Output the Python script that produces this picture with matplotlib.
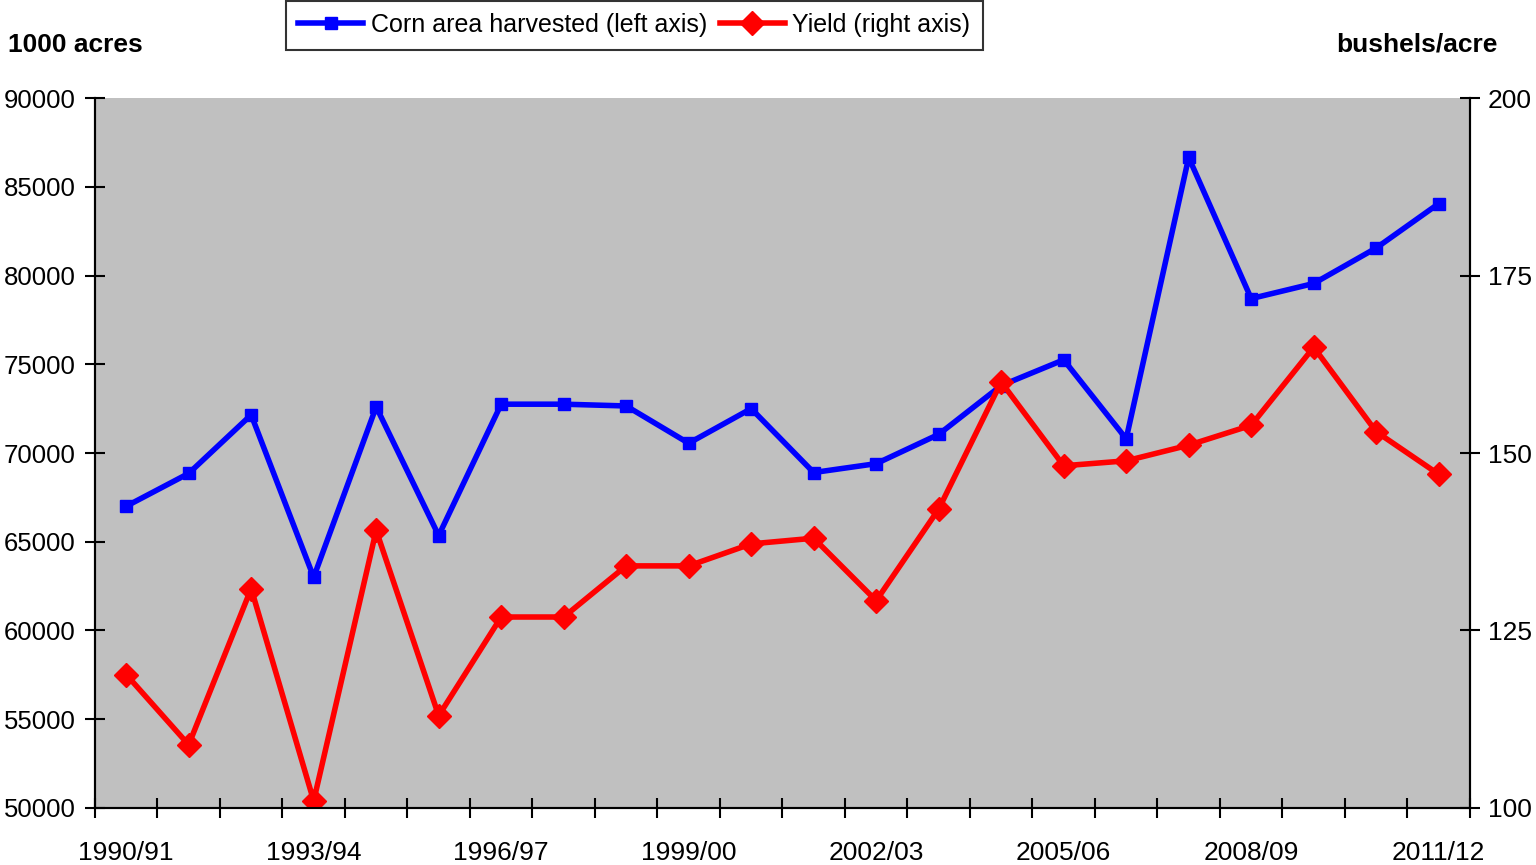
import matplotlib
matplotlib.use('Agg')
from matplotlib import pyplot as plt
import numpy as np

# marketing years
years = ['1990/91', '1991/92', '1992/93', '1993/94', '1994/95', '1995/96',
         '1996/97', '1997/98', '1998/99', '1999/00', '2000/01', '2001/02',
         '2002/03', '2003/04', '2004/05', '2005/06', '2006/07', '2007/08',
         '2008/09', '2009/10', '2010/11', '2011/12']

# 1000 acres
area = [67000, 68850, 72150, 63000, 72600, 65350, 72750, 72750, 72650, 70550,
        72500, 68900, 69400, 71050, 73800, 75250, 70800, 86650, 78700, 79550,
        81550, 84050]

# bushels/acre
yld = [118.8, 108.9, 130.9, 101.0, 139.1, 113.0, 126.9, 126.9, 134.1, 134.1,
       137.2, 138.0, 129.2, 142.1, 160.0, 148.2, 148.9, 151.1, 153.9, 164.9,
       153.0, 147.0]

plt.rcParams['font.family'] = ['Liberation Sans', 'DejaVu Sans']

fig = plt.figure(figsize=(15.36, 8.65), dpi=100)
ax = fig.add_axes([0.0618, 0.0659, 0.8952, 0.8208])
ax2 = ax.twinx()

x = np.arange(len(years))
l1, = ax.plot(x, area, color='#0000ff', lw=4, marker='s', ms=9,
              label='Corn area harvested (left axis)')
l2, = ax2.plot(x, yld, color='#ff0000', lw=4, marker='D', ms=12,
               label='Yield (right axis)')

ax.set_facecolor('#c0c0c0')
ax.set_xlim(-0.5, len(years) - 0.5)
ax.set_ylim(50000, 90000)
ax2.set_ylim(100, 200)
ax.set_yticks(np.arange(50000, 90001, 5000))
ax2.set_yticks(np.arange(100, 201, 25))

ax.set_xticks(np.arange(-0.5, len(years), 1))
ax.set_xticklabels([])
ax.set_xticks(x[::3], minor=True)
ax.set_xticklabels(years[::3], minor=True)
ax.tick_params(axis='x', which='major', direction='inout', length=14, width=1.5)
ax.tick_params(axis='x', which='minor', length=0, pad=24, labelsize=19)
ax.tick_params(axis='y', direction='inout', length=14, width=1.5, labelsize=18.5, pad=7)
ax2.tick_params(axis='y', direction='inout', length=14, width=1.5, labelsize=19, pad=6)

for a in (ax, ax2):
    a.spines['top'].set_visible(False)
    for s in ('left', 'right', 'bottom'):
        a.spines[s].set_linewidth(1.5)

fig.text(0.005, 0.948, '1000 acres', fontsize=19, fontweight='bold', ha='left', va='center')
fig.text(0.975, 0.948, 'bushels/acre', fontsize=19, fontweight='bold', ha='right', va='center')

leg = fig.legend(handles=[l1, l2], loc='center', bbox_to_anchor=(0.413, 0.971),
                 ncol=2, fontsize=18, frameon=True, fancybox=False, edgecolor='black',
                 handlelength=2.6, columnspacing=0.5, handletextpad=0.3,
                 borderpad=0.5, borderaxespad=0)
leg.get_frame().set_linewidth(1.5)

fig.savefig('out.png', dpi=100)
